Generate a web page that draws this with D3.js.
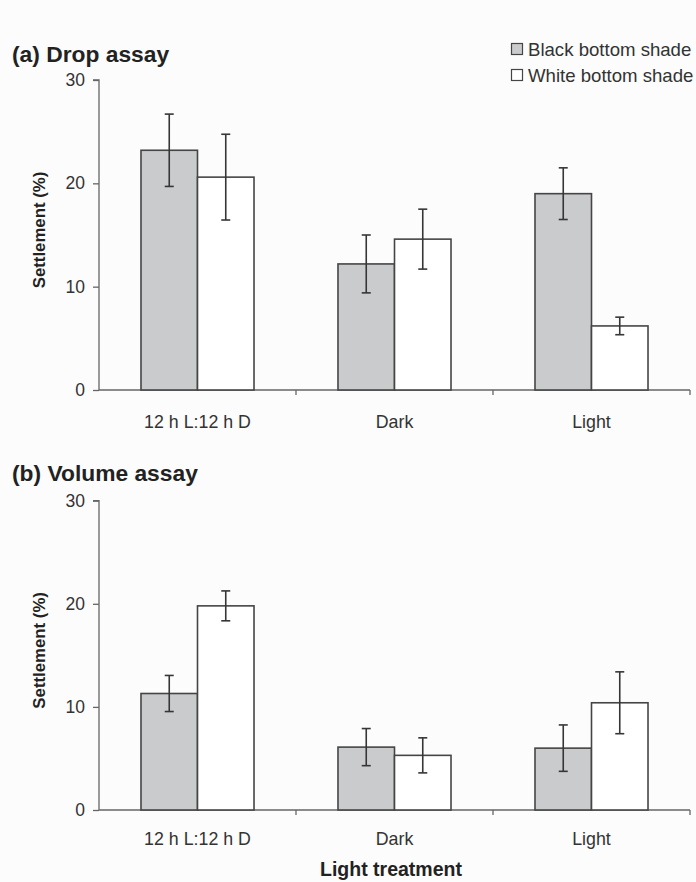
<!DOCTYPE html>
<html>
<head>
<meta charset="utf-8">
<script src="https://cdn.jsdelivr.net/npm/d3@7/dist/d3.min.js"></script>
<style>
  html, body { margin: 0; padding: 0; background: #fcfcfc; }
  svg { display: block; font-family: "Liberation Sans", Arial, sans-serif; }
</style>
</head>
<body>
<svg id="chart" width="696" height="882"></svg>
<script>
// Light treatments on the x axis
const categories = ["12 h L:12 h D", "Dark", "Light"];
const seriesNames = ["Black bottom shade", "White bottom shade"];
const yTicks = [0, 10, 20, 30];

// (a) Drop assay: mean settlement (%) and standard error
const dropBlack = [23.2, 12.2, 19.0];
const dropBlackErr = [3.5, 2.8, 2.5];
const dropWhite = [20.6, 14.6, 6.2];
const dropWhiteErr = [4.15, 2.9, 0.85];

// (b) Volume assay: mean settlement (%) and standard error
const volBlack = [11.3, 6.1, 6.0];
const volBlackErr = [1.75, 1.8, 2.25];
const volWhite = [19.8, 5.3, 10.4];
const volWhiteErr = [1.45, 1.7, 3.0];

const fills = { "Black bottom shade": "#c9cbcc", "White bottom shade": "#ffffff" };
const strokeCol = "#454545";
const axisCol = "#666";
const textCol = "#333";

const svg = d3.select("#chart");

const x0 = d3.scaleBand().domain(categories).range([99, 690]).padding(0);
const x1 = d3.scaleBand().domain(seriesNames).range([0, x0.bandwidth()])
  .paddingInner(0).paddingOuter(0.743);

function panel(title, titleY, yTop, yBottom, catPad, black, blackErr, white, whiteErr) {
  const y = d3.scaleLinear().domain([0, 30]).range([yBottom, yTop]);
  const g = svg.append("g");

  g.append("text").attr("x", 12).attr("y", titleY)
    .attr("font-size", 22.8).attr("font-weight", "bold").attr("fill", "#222")
    .text(title);

  // y axis
  const yAxis = g.append("g").attr("transform", "translate(99,0)")
    .call(d3.axisLeft(y).tickValues(yTicks).tickSize(6).tickPadding(8));
  yAxis.select(".domain").attr("stroke", axisCol).attr("stroke-width", 1.3)
    .attr("d", `M-6,${y(30)}H0V${y(0)}`);
  yAxis.selectAll(".tick line").attr("stroke", axisCol).attr("stroke-width", 1.3);
  yAxis.selectAll(".tick text").attr("font-size", 17.5).attr("fill", textCol)
    .attr("font-family", "Liberation Sans, Arial, sans-serif");

  g.append("text")
    .attr("transform", `translate(45,${(y(0) + y(30)) / 2 - 5}) rotate(-90)`)
    .attr("text-anchor", "middle").attr("font-size", 16.8).attr("font-weight", "bold")
    .attr("fill", "#222").text("Settlement (%)");

  // x axis line with category boundary ticks
  const xAxis = g.append("g").attr("transform", `translate(0,${y(0)})`)
    .call(d3.axisBottom(x0).tickSize(0).tickPadding(catPad));
  xAxis.select(".domain").attr("stroke", axisCol).attr("stroke-width", 1.3)
    .attr("d", `M99,0H690`);
  xAxis.selectAll(".tick text").attr("font-size", 17.8).attr("fill", textCol)
    .attr("font-family", "Liberation Sans, Arial, sans-serif");
  const bounds = categories.map(c => x0(c) + x0.bandwidth());
  xAxis.selectAll("line.sep").data(bounds).join("line").attr("class", "sep")
    .attr("x1", d => d).attr("x2", d => d).attr("y1", 0).attr("y2", 5)
    .attr("stroke", axisCol).attr("stroke-width", 1.3);

  const rows = [];
  categories.forEach((c, i) => {
    rows.push({ cat: c, s: seriesNames[0], v: black[i], e: blackErr[i] });
    rows.push({ cat: c, s: seriesNames[1], v: white[i], e: whiteErr[i] });
  });

  g.selectAll("rect.bar").data(rows).join("rect").attr("class", "bar")
    .attr("x", d => x0(d.cat) + x1(d.s))
    .attr("y", d => y(d.v))
    .attr("width", x1.bandwidth())
    .attr("height", d => y(0) - y(d.v))
    .attr("fill", d => fills[d.s])
    .attr("stroke", strokeCol).attr("stroke-width", 1.6);

  const eb = g.selectAll("g.err").data(rows).join("g").attr("class", "err")
    .attr("stroke", "#363636").attr("stroke-width", 1.6);
  const cx = d => x0(d.cat) + x1(d.s) + x1.bandwidth() / 2;
  eb.append("line").attr("x1", cx).attr("x2", cx)
    .attr("y1", d => y(d.v + d.e)).attr("y2", d => y(d.v - d.e));
  eb.append("line").attr("x1", d => cx(d) - 4.5).attr("x2", d => cx(d) + 4.5)
    .attr("y1", d => y(d.v + d.e)).attr("y2", d => y(d.v + d.e));
  eb.append("line").attr("x1", d => cx(d) - 4.5).attr("x2", d => cx(d) + 4.5)
    .attr("y1", d => y(d.v - d.e)).attr("y2", d => y(d.v - d.e));
  return y;
}

panel("(a) Drop assay", 62, 80, 390, 25, dropBlack, dropBlackErr, dropWhite, dropWhiteErr);
panel("(b) Volume assay", 481, 500.7, 810, 22, volBlack, volBlackErr, volWhite, volWhiteErr);

// x axis title
svg.append("text").attr("x", 391).attr("y", 876).attr("text-anchor", "middle")
  .attr("font-size", 19.5).attr("font-weight", "bold").attr("fill", "#222")
  .text("Light treatment");

// legend
const leg = svg.append("g").selectAll("g").data(seriesNames).join("g")
  .attr("transform", (d, i) => `translate(511,${43 + i * 26})`);
leg.append("rect").attr("x", 0.5).attr("y", 0.5).attr("width", 11).attr("height", 11)
  .attr("fill", d => fills[d]).attr("stroke", strokeCol).attr("stroke-width", 1.2);
leg.append("text").attr("x", 17).attr("y", 12.5).attr("font-size", 18.6)
  .attr("fill", textCol).text(d => d);
</script>
</body>
</html>
